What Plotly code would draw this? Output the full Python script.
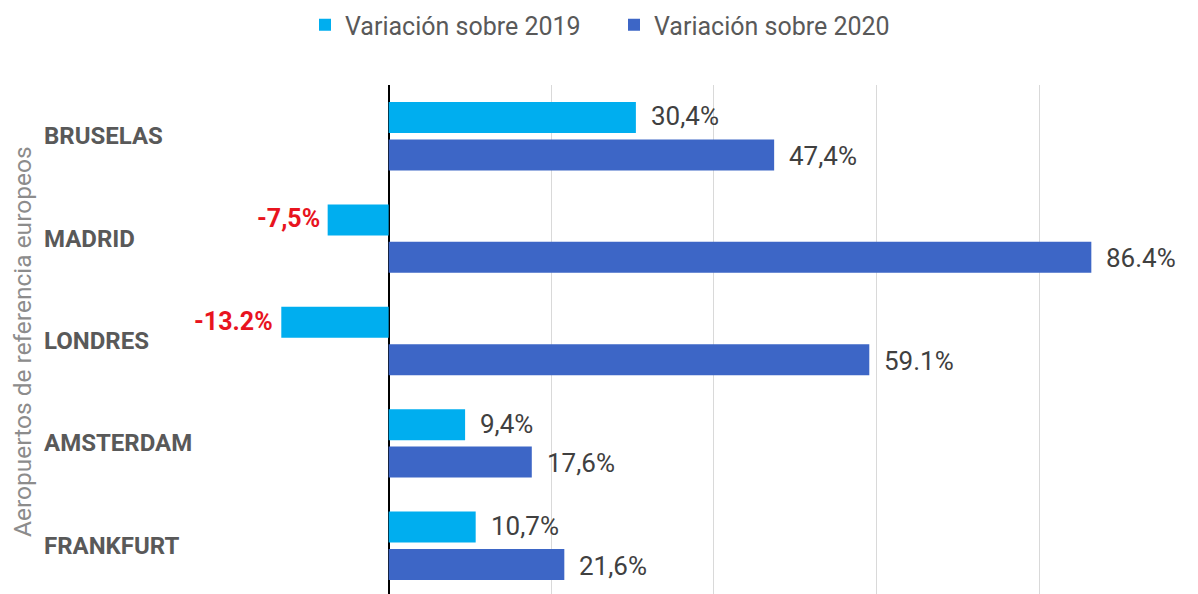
import plotly.graph_objects as go

categories = ["BRUSELAS", "MADRID", "LONDRES", "AMSTERDAM", "FRANKFURT"]
var_2019 = [30.4, -7.5, -13.2, 9.4, 10.7]
var_2020 = [47.4, 86.4, 59.1, 17.6, 21.6]
labels_2019 = ["30,4%", "-7,5%", "-13.2%", "9,4%", "10,7%"]
labels_2020 = ["47,4%", "86.4%", "59.1%", "17,6%", "21,6%"]
series_names = ["Variación sobre 2019", "Variación sobre 2020"]
axis_title = "Aeropuertos de referencia europeos"

C_2019 = "#00AEEF"
C_2020 = "#3D66C6"
TXT = "#404040"
RED = "#E8141E"
FONT = "Roboto"

fig = go.Figure()
fig.add_trace(go.Bar(y=categories, x=var_2019, name=series_names[0], orientation="h",
                     marker=dict(color=C_2019, line=dict(width=0))))
fig.add_trace(go.Bar(y=categories, x=var_2020, name=series_names[1], orientation="h",
                     marker=dict(color=C_2020, line=dict(width=0))))

ann = []
SHIFT = 18.7
for cat, v, t in zip(categories, var_2019, labels_2019):
    neg = v < 0
    ann.append(dict(x=v, y=cat, xref="x", yref="y", text=t, showarrow=False,
                    xanchor="right" if neg else "left", xshift=-6 if neg else 13,
                    yshift=SHIFT + 1,
                    font=dict(family=FONT, size=25 if neg else 26, color=RED if neg else TXT,
                              weight="bold" if neg else "normal")))
for cat, v, t in zip(categories, var_2020, labels_2020):
    ann.append(dict(x=v, y=cat, xref="x", yref="y", text=t, showarrow=False,
                    xanchor="left", xshift=13, yshift=-SHIFT - 1,
                    font=dict(family=FONT, size=26, color=TXT)))
for cat in categories:
    ann.append(dict(x=-0.1878, y=cat, xref="paper", yref="y", text=cat, showarrow=False,
                    xanchor="left",
                    font=dict(family=FONT, size=24, color="#595959", weight="bold")))
ann.append(dict(x=-0.2082, y=0.5, xref="paper", yref="paper", text=axis_title,
                showarrow=False, textangle=-90, xanchor="center", yanchor="middle",
                font=dict(family=FONT, size=24.5, color="#8C8C8C")))

fig.update_layout(
    width=1198, height=594,
    margin=dict(l=218, r=0, t=77, b=5),
    paper_bgcolor="white", plot_bgcolor="white",
    barmode="group", bargap=0.27, bargroupgap=0.17,
    showlegend=True,
    legend=dict(orientation="h", xref="container", yref="container",
                x=297 / 1198, y=1 - 17 / 594, xanchor="left", yanchor="middle",
                font=dict(family=FONT, size=25, color="#595959"),
                traceorder="normal", itemwidth=30,
                entrywidth=264, entrywidthmode="pixels"),
    annotations=ann,
    font=dict(family=FONT),
)
fig.update_xaxes(range=[-20, 100.5], dtick=20, tick0=0, showticklabels=False,
                 showgrid=True, gridcolor="#D9D9D9", gridwidth=1,
                 zeroline=True, zerolinecolor="#000000", zerolinewidth=2,
                 showline=False, fixedrange=True)
fig.update_yaxes(type="category", categoryorder="array", categoryarray=categories,
                 range=[4.5, -0.5], showticklabels=False, showgrid=False,
                 zeroline=False, showline=False, fixedrange=True)

fig.write_html("out.html")
